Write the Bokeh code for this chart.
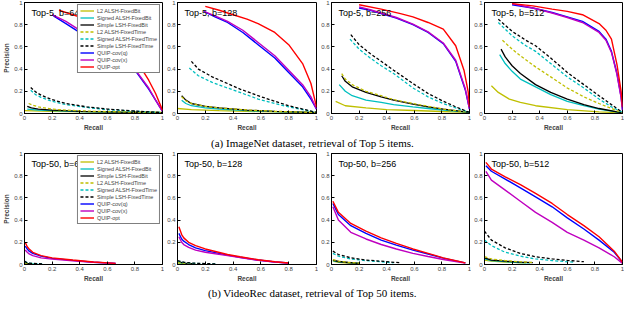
from bokeh.plotting import figure
from bokeh.layouts import column, row
from bokeh.models import Label, Legend, LegendItem, FixedTicker, Range1d, CustomJSTickFormatter
from bokeh.embed import file_html
from bokeh.resources import INLINE

SERIES = ["L2 ALSH-FixedBit", "Signed ALSH-FixedBit", "Simple LSH-FixedBit",
          "L2 ALSH-FixedTime", "Signed ALSH-FixedTime", "Simple LSH-FixedTime",
          "QUIP-cov(q)", "QUIP-cov(x)", "QUIP-opt"]
TICKS = [0, 0.2, 0.4, 0.6, 0.8, 1.0]

# ---- (a) ImageNet, Top 5 : recall list, precision list per series ----
A64 = {
    "L2 ALSH-FixedBit": ([0.0, 0.2, 0.5, 0.8, 1.0], [0.025, 0.02, 0.015, 0.012, 0.01]),
    "Signed ALSH-FixedBit": ([0.02, 0.1, 0.2, 0.4, 0.7, 1.0], [0.04, 0.03, 0.025, 0.018, 0.012, 0.008]),
    "Simple LSH-FixedBit": ([0.02, 0.05, 0.1, 0.2, 0.4, 0.7, 1.0], [0.065, 0.05, 0.04, 0.03, 0.02, 0.013, 0.008]),
    "L2 ALSH-FixedTime": ([0.03, 0.06, 0.1, 0.2, 0.3, 0.5, 0.8, 1.0], [0.09, 0.075, 0.06, 0.04, 0.03, 0.02, 0.012, 0.008]),
    "Signed ALSH-FixedTime": ([0.045, 0.08, 0.12, 0.2, 0.3, 0.45, 0.6, 0.8, 1.0], [0.21, 0.17, 0.145, 0.11, 0.08, 0.055, 0.035, 0.02, 0.008]),
    "Simple LSH-FixedTime": ([0.045, 0.08, 0.12, 0.2, 0.3, 0.45, 0.6, 0.8, 1.0], [0.235, 0.195, 0.165, 0.125, 0.09, 0.06, 0.04, 0.022, 0.008]),
    "QUIP-cov(q)": ([0.21, 0.3, 0.45, 0.6, 0.7, 0.8, 0.9, 0.95, 1.0], [0.88, 0.81, 0.69, 0.57, 0.49, 0.39, 0.22, 0.12, 0.02]),
    "QUIP-cov(x)": ([0.2, 0.3, 0.45, 0.6, 0.7, 0.8, 0.9, 0.95, 1.0], [0.89, 0.83, 0.71, 0.6, 0.51, 0.4, 0.23, 0.12, 0.02]),
    "QUIP-opt": ([0.25, 0.35, 0.45, 0.6, 0.7, 0.8, 0.84, 0.9, 0.95, 1.0], [0.93, 0.89, 0.85, 0.75, 0.64, 0.49, 0.42, 0.3, 0.18, 0.03]),
}
A128 = {
    "L2 ALSH-FixedBit": ([0.0, 0.1, 0.3, 0.6, 1.0], [0.045, 0.035, 0.025, 0.017, 0.01]),
    "Signed ALSH-FixedBit": ([0.03, 0.06, 0.1, 0.2, 0.3, 0.5, 0.7, 1.0], [0.12, 0.09, 0.07, 0.05, 0.04, 0.025, 0.017, 0.008]),
    "Simple LSH-FixedBit": ([0.03, 0.06, 0.1, 0.2, 0.3, 0.5, 0.7, 1.0], [0.16, 0.12, 0.09, 0.065, 0.05, 0.03, 0.02, 0.008]),
    "L2 ALSH-FixedTime": ([0.03, 0.06, 0.1, 0.2, 0.3, 0.5, 0.7, 1.0], [0.15, 0.115, 0.09, 0.065, 0.05, 0.032, 0.02, 0.008]),
    "Signed ALSH-FixedTime": ([0.085, 0.15, 0.25, 0.36, 0.45, 0.58, 0.7, 0.8, 0.9, 1.0], [0.41, 0.34, 0.28, 0.23, 0.19, 0.13, 0.09, 0.06, 0.035, 0.01]),
    "Simple LSH-FixedTime": ([0.1, 0.15, 0.25, 0.36, 0.45, 0.58, 0.7, 0.8, 0.9, 1.0], [0.47, 0.4, 0.33, 0.27, 0.22, 0.16, 0.11, 0.07, 0.04, 0.01]),
    "QUIP-cov(q)": ([0.19, 0.27, 0.36, 0.47, 0.58, 0.7, 0.8, 0.9, 0.96, 1.0], [0.92, 0.87, 0.82, 0.73, 0.62, 0.5, 0.37, 0.24, 0.13, 0.04]),
    "QUIP-cov(x)": ([0.19, 0.27, 0.36, 0.47, 0.58, 0.7, 0.8, 0.9, 0.96, 1.0], [0.92, 0.88, 0.83, 0.75, 0.64, 0.52, 0.39, 0.26, 0.15, 0.04]),
    "QUIP-opt": ([0.2, 0.3, 0.4, 0.5, 0.58, 0.7, 0.8, 0.9, 0.96, 1.0], [0.965, 0.93, 0.89, 0.85, 0.81, 0.73, 0.62, 0.45, 0.27, 0.06]),
}
A256 = {
    "L2 ALSH-FixedBit": ([0.03, 0.1, 0.25, 0.4, 0.6, 0.8, 1.0], [0.11, 0.07, 0.05, 0.035, 0.027, 0.018, 0.01]),
    "Signed ALSH-FixedBit": ([0.056, 0.1, 0.15, 0.25, 0.36, 0.45, 0.59, 0.7, 0.81, 1.0], [0.26, 0.2, 0.16, 0.12, 0.1, 0.08, 0.06, 0.045, 0.03, 0.01]),
    "Simple LSH-FixedBit": ([0.074, 0.1, 0.15, 0.25, 0.36, 0.45, 0.59, 0.7, 0.81, 1.0], [0.34, 0.29, 0.24, 0.19, 0.15, 0.12, 0.085, 0.06, 0.04, 0.01]),
    "L2 ALSH-FixedTime": ([0.074, 0.1, 0.15, 0.25, 0.36, 0.45, 0.59, 0.7, 0.81, 1.0], [0.36, 0.31, 0.26, 0.2, 0.16, 0.125, 0.09, 0.065, 0.04, 0.01]),
    "Signed ALSH-FixedTime": ([0.134, 0.2, 0.28, 0.36, 0.45, 0.59, 0.7, 0.81, 0.9, 1.0], [0.67, 0.58, 0.5, 0.43, 0.36, 0.23, 0.15, 0.09, 0.05, 0.01]),
    "Simple LSH-FixedTime": ([0.14, 0.2, 0.28, 0.36, 0.45, 0.59, 0.7, 0.81, 0.9, 1.0], [0.71, 0.62, 0.54, 0.47, 0.39, 0.27, 0.18, 0.11, 0.06, 0.01]),
    "QUIP-cov(q)": ([0.2, 0.28, 0.36, 0.47, 0.59, 0.7, 0.81, 0.9, 0.97, 1.0], [0.95, 0.93, 0.9, 0.86, 0.8, 0.73, 0.63, 0.47, 0.21, 0.04]),
    "QUIP-cov(x)": ([0.2, 0.28, 0.36, 0.47, 0.59, 0.7, 0.81, 0.9, 0.97, 1.0], [0.96, 0.935, 0.905, 0.865, 0.805, 0.735, 0.635, 0.48, 0.22, 0.04]),
    "QUIP-opt": ([0.2, 0.36, 0.5, 0.59, 0.7, 0.81, 0.9, 0.96, 0.99, 1.0], [0.98, 0.94, 0.9, 0.87, 0.82, 0.76, 0.61, 0.39, 0.2, 0.06]),
}
A512 = {
    "L2 ALSH-FixedBit": ([0.05, 0.1, 0.18, 0.26, 0.37, 0.6, 0.83, 1.0], [0.25, 0.19, 0.13, 0.1, 0.07, 0.035, 0.015, 0.005]),
    "Signed ALSH-FixedBit": ([0.11, 0.15, 0.2, 0.26, 0.37, 0.48, 0.6, 0.72, 0.83, 1.0], [0.53, 0.45, 0.38, 0.31, 0.24, 0.17, 0.11, 0.07, 0.04, 0.005]),
    "Simple LSH-FixedBit": ([0.12, 0.15, 0.2, 0.26, 0.37, 0.48, 0.6, 0.72, 0.83, 1.0], [0.58, 0.51, 0.43, 0.36, 0.26, 0.19, 0.13, 0.08, 0.045, 0.005]),
    "L2 ALSH-FixedTime": ([0.13, 0.2, 0.26, 0.37, 0.48, 0.6, 0.72, 0.83, 0.92, 1.0], [0.66, 0.58, 0.52, 0.42, 0.33, 0.23, 0.15, 0.09, 0.045, 0.005]),
    "Signed ALSH-FixedTime": ([0.1, 0.2, 0.3, 0.37, 0.48, 0.6, 0.72, 0.83, 0.92, 1.0], [0.82, 0.7, 0.61, 0.56, 0.45, 0.33, 0.23, 0.13, 0.06, 0.01]),
    "Simple LSH-FixedTime": ([0.1, 0.2, 0.3, 0.37, 0.48, 0.6, 0.72, 0.83, 0.92, 1.0], [0.85, 0.74, 0.66, 0.61, 0.5, 0.37, 0.26, 0.16, 0.08, 0.01]),
    "QUIP-cov(q)": ([0.2, 0.35, 0.49, 0.6, 0.71, 0.83, 0.88, 0.92, 0.96, 0.99, 1.0], [0.98, 0.95, 0.91, 0.87, 0.83, 0.74, 0.67, 0.56, 0.36, 0.15, 0.03]),
    "QUIP-cov(x)": ([0.2, 0.35, 0.49, 0.6, 0.71, 0.83, 0.88, 0.92, 0.96, 0.99, 1.0], [0.99, 0.95, 0.905, 0.865, 0.82, 0.73, 0.66, 0.55, 0.35, 0.14, 0.03]),
    "QUIP-opt": ([0.2, 0.35, 0.49, 0.6, 0.71, 0.83, 0.88, 0.92, 0.96, 0.99, 1.0], [0.99, 0.97, 0.94, 0.92, 0.89, 0.81, 0.75, 0.67, 0.44, 0.2, 0.06]),
}
# ---- (b) VideoRec, Top 50 ----
B64 = {
    "L2 ALSH-FixedBit": ([0.0, 0.02, 0.05], [0.01, 0.006, 0.003]),
    "Signed ALSH-FixedBit": ([0.0, 0.03, 0.1], [0.015, 0.008, 0.004]),
    "Simple LSH-FixedBit": ([0.0, 0.02, 0.05], [0.02, 0.01, 0.005]),
    "L2 ALSH-FixedTime": ([0.0, 0.03, 0.08], [0.015, 0.008, 0.005]),
    "Signed ALSH-FixedTime": ([0.0, 0.03, 0.08, 0.13], [0.025, 0.012, 0.008, 0.005]),
    "Simple LSH-FixedTime": ([0.0, 0.02, 0.05, 0.1, 0.13], [0.03, 0.015, 0.01, 0.007, 0.005]),
    "QUIP-cov(q)": ([0.005, 0.02, 0.034, 0.06, 0.12, 0.2, 0.35, 0.5, 0.66], [0.165, 0.14, 0.12, 0.1, 0.075, 0.055, 0.037, 0.02, 0.01]),
    "QUIP-cov(x)": ([0.005, 0.02, 0.034, 0.06, 0.12, 0.2, 0.35, 0.5, 0.66], [0.13, 0.11, 0.095, 0.08, 0.06, 0.048, 0.033, 0.02, 0.01]),
    "QUIP-opt": ([0.005, 0.02, 0.034, 0.06, 0.12, 0.2, 0.35, 0.5, 0.66], [0.2, 0.16, 0.14, 0.11, 0.08, 0.06, 0.04, 0.022, 0.01]),
}
B128 = {
    "L2 ALSH-FixedBit": ([0.0, 0.05, 0.1], [0.015, 0.008, 0.004]),
    "Signed ALSH-FixedBit": ([0.0, 0.05, 0.12], [0.02, 0.01, 0.005]),
    "Simple LSH-FixedBit": ([0.0, 0.05, 0.12], [0.025, 0.012, 0.006]),
    "L2 ALSH-FixedTime": ([0.0, 0.05, 0.15], [0.02, 0.01, 0.005]),
    "Signed ALSH-FixedTime": ([0.0, 0.05, 0.1, 0.2, 0.28], [0.03, 0.017, 0.011, 0.007, 0.004]),
    "Simple LSH-FixedTime": ([0.0, 0.05, 0.1, 0.2, 0.28], [0.035, 0.02, 0.013, 0.008, 0.005]),
    "QUIP-cov(q)": ([0.01, 0.03, 0.045, 0.08, 0.13, 0.2, 0.36, 0.45, 0.58, 0.7, 0.8], [0.28, 0.23, 0.21, 0.18, 0.15, 0.125, 0.085, 0.065, 0.04, 0.023, 0.013]),
    "QUIP-cov(x)": ([0.01, 0.03, 0.045, 0.08, 0.13, 0.2, 0.36, 0.45, 0.58, 0.7, 0.8], [0.25, 0.2, 0.18, 0.155, 0.13, 0.11, 0.08, 0.062, 0.038, 0.022, 0.012]),
    "QUIP-opt": ([0.01, 0.03, 0.045, 0.08, 0.13, 0.2, 0.36, 0.45, 0.58, 0.7, 0.8], [0.34, 0.27, 0.24, 0.2, 0.17, 0.14, 0.09, 0.07, 0.043, 0.025, 0.014]),
}
B256 = {
    "L2 ALSH-FixedBit": ([0.01, 0.05, 0.1, 0.2], [0.03, 0.02, 0.014, 0.01]),
    "Signed ALSH-FixedBit": ([0.01, 0.05, 0.12, 0.2], [0.035, 0.024, 0.016, 0.01]),
    "Simple LSH-FixedBit": ([0.01, 0.05, 0.12, 0.2], [0.04, 0.027, 0.018, 0.01]),
    "L2 ALSH-FixedTime": ([0.01, 0.05, 0.12, 0.2], [0.045, 0.03, 0.02, 0.012]),
    "Signed ALSH-FixedTime": ([0.01, 0.05, 0.14, 0.25, 0.36, 0.45], [0.1, 0.075, 0.05, 0.035, 0.025, 0.015]),
    "Simple LSH-FixedTime": ([0.01, 0.05, 0.14, 0.25, 0.36, 0.5], [0.12, 0.09, 0.06, 0.04, 0.03, 0.015]),
    "QUIP-cov(q)": ([0.01, 0.05, 0.14, 0.25, 0.36, 0.47, 0.59, 0.7, 0.81, 0.9, 0.97], [0.55, 0.45, 0.35, 0.28, 0.22, 0.175, 0.13, 0.095, 0.058, 0.033, 0.015]),
    "QUIP-cov(x)": ([0.01, 0.05, 0.14, 0.25, 0.36, 0.47, 0.59, 0.7, 0.81, 0.9, 0.97], [0.52, 0.4, 0.29, 0.23, 0.18, 0.14, 0.1, 0.072, 0.045, 0.027, 0.012]),
    "QUIP-opt": ([0.01, 0.05, 0.14, 0.25, 0.36, 0.47, 0.59, 0.7, 0.81, 0.9, 0.97], [0.57, 0.47, 0.37, 0.3, 0.24, 0.19, 0.14, 0.1, 0.06, 0.035, 0.015]),
}
B512 = {
    "L2 ALSH-FixedBit": ([0.0, 0.05, 0.15, 0.25, 0.3], [0.04, 0.03, 0.022, 0.017, 0.014]),
    "Signed ALSH-FixedBit": ([0.0, 0.05, 0.15, 0.25, 0.33], [0.05, 0.035, 0.025, 0.018, 0.014]),
    "Simple LSH-FixedBit": ([0.0, 0.05, 0.15, 0.25, 0.35], [0.06, 0.04, 0.03, 0.022, 0.016]),
    "L2 ALSH-FixedTime": ([0.0, 0.05, 0.15, 0.25, 0.35], [0.07, 0.05, 0.035, 0.025, 0.018]),
    "Signed ALSH-FixedTime": ([0.0, 0.05, 0.15, 0.26, 0.37, 0.49, 0.65], [0.22, 0.17, 0.11, 0.075, 0.05, 0.035, 0.02]),
    "Simple LSH-FixedTime": ([0.0, 0.05, 0.15, 0.26, 0.37, 0.49, 0.6, 0.72], [0.3, 0.22, 0.15, 0.1, 0.07, 0.05, 0.037, 0.025]),
    "QUIP-cov(q)": ([0.01, 0.05, 0.15, 0.26, 0.37, 0.49, 0.6, 0.72, 0.83, 0.94, 1.0], [0.89, 0.84, 0.77, 0.69, 0.61, 0.52, 0.42, 0.32, 0.22, 0.11, 0.02]),
    "QUIP-cov(x)": ([0.01, 0.05, 0.15, 0.26, 0.37, 0.49, 0.6, 0.72, 0.83, 0.94, 1.0], [0.84, 0.76, 0.67, 0.57, 0.47, 0.38, 0.29, 0.22, 0.15, 0.07, 0.01]),
    "QUIP-opt": ([0.01, 0.05, 0.15, 0.26, 0.37, 0.49, 0.6, 0.72, 0.83, 0.94, 1.0], [0.92, 0.86, 0.79, 0.72, 0.64, 0.55, 0.45, 0.35, 0.25, 0.12, 0.02]),
}

TITLES_A = ["Top-5, b=64", "Top-5, b=128", "Top-5, b=256", "Top-5, b=512"]
TITLES_B = ["Top-50, b=64", "Top-50, b=128", "Top-50, b=256", "Top-50, b=512"]
CAPTION_A = "(a) ImageNet dataset, retrieval of Top 5 items."
CAPTION_B = "(b) VideoRec dataset, retrieval of Top 50 items."

# styles: colour, dash, width
STYLE = {
    "L2 ALSH-FixedBit": ("#bfbf00", "solid", 1.3),
    "Signed ALSH-FixedBit": ("#00bfbf", "solid", 1.3),
    "Simple LSH-FixedBit": ("#000000", "solid", 1.3),
    "L2 ALSH-FixedTime": ("#bfbf00", "3 2", 1.3),
    "Signed ALSH-FixedTime": ("#00bfbf", "3 2", 1.3),
    "Simple LSH-FixedTime": ("#000000", "3 2", 1.3),
    "QUIP-cov(q)": ("#0000ff", "solid", 1.4),
    "QUIP-cov(x)": ("#bf00bf", "solid", 1.4),
    "QUIP-opt": ("#ff0000", "solid", 1.4),
}

FMT = CustomJSTickFormatter(code="return tick == 0 ? '0' : (tick == 1 ? '1' : tick.toFixed(1));")
ROW_H = 133
WIDTHS = [164, 154, 153, 153]


def panel(title, data, width, first):
    p = figure(width=width, height=ROW_H, x_range=Range1d(0, 1), y_range=Range1d(0, 1),
               output_backend="svg", toolbar_location=None,
               min_border_left=20 if first else 11, min_border_right=2,
               min_border_top=2, min_border_bottom=0)
    p.grid.visible = False
    p.outline_line_color = "black"
    p.outline_line_width = 1
    for ax in (p.xaxis[0], p.yaxis[0]):
        ax.ticker = FixedTicker(ticks=TICKS)
        ax.formatter = FMT
        ax.major_tick_in = 3
        ax.major_tick_out = 0
        ax.minor_tick_line_color = None
        ax.major_label_text_font_size = "6px"
        ax.major_label_text_font = "Liberation Sans"
        ax.major_label_standoff = 2
        ax.axis_label_text_font = "Liberation Sans"
        ax.axis_label_text_font_size = "6.5px"
        ax.axis_label_text_font_style = "bold"
        ax.axis_label_standoff = 1
        ax.axis_line_color = "black"
    p.xaxis.axis_label = "Recall"
    if first:
        p.yaxis.axis_label = "Precision"
    items = []
    for name in SERIES:
        rec, prec = data[name]
        color, dash, lw = STYLE[name]
        rr = p.line(rec, prec, line_color=color, line_dash=dash, line_width=lw)
        items.append(LegendItem(label=name, renderers=[rr]))
    p.add_layout(Label(x=0.05, y=0.95, text=title, text_font="Liberation Sans",
                       text_font_size="9px", text_baseline="top", text_color="black"))
    if first:
        leg = Legend(items=items, location="top_right", label_text_font="Liberation Sans",
                     label_text_font_size="5.5px", label_height=7, glyph_height=7, glyph_width=14,
                     spacing=0, padding=2, margin=2, label_standoff=3,
                     border_line_color="black", border_line_width=1,
                     background_fill_color="white", background_fill_alpha=1)
        p.add_layout(leg)
    return p


def caption(text, h):
    c = figure(width=624, height=h, x_range=Range1d(0, 1), y_range=Range1d(0, 1),
               output_backend="svg", toolbar_location=None, x_axis_type=None, y_axis_type=None,
               min_border=0)
    c.outline_line_color = None
    c.add_layout(Label(x=0.5, y=0.5, text=text, text_align="center", text_baseline="middle",
                       text_font="Liberation Serif", text_font_size="11px", text_color="black"))
    return c


rowA = row(*[panel(t, d, w, i == 0) for i, (t, d, w) in enumerate(zip(TITLES_A, [A64, A128, A256, A512], WIDTHS))])
rowB = row(*[panel(t, d, w, i == 0) for i, (t, d, w) in enumerate(zip(TITLES_B, [B64, B128, B256, B512], WIDTHS))])
layout = column(rowA, caption(CAPTION_A, 18), rowB, caption(CAPTION_B, 16))

open("out.html", "w").write(file_html(layout, INLINE))
